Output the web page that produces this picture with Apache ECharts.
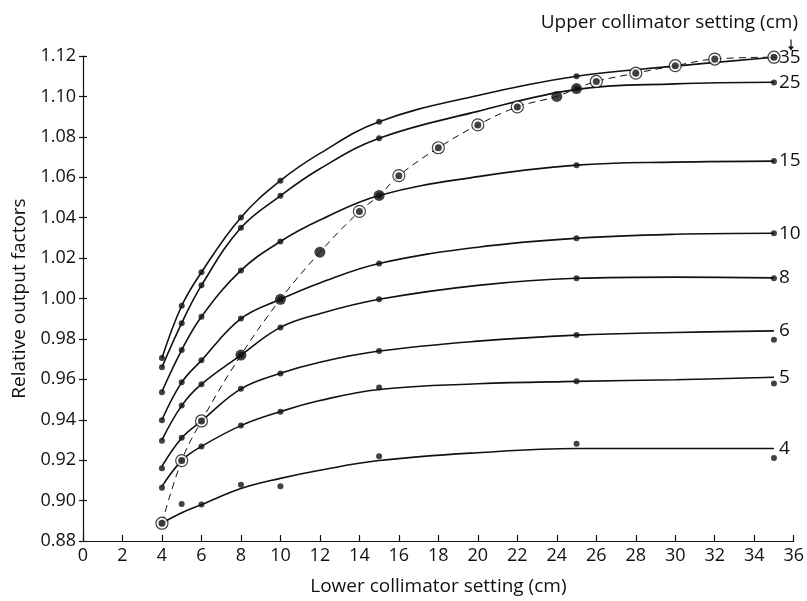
<!DOCTYPE html>
<html>
<head>
<meta charset="utf-8">
<script src="https://cdn.jsdelivr.net/npm/echarts@6/dist/echarts.min.js"></script>
<style>
  html, body { margin: 0; padding: 0; background: #fff; }
  #chart { width: 807px; height: 601px; }
</style>
</head>
<body>
<div id="chart"></div>
<script>
// Lower collimator settings at which output was measured (cm)
const lowerSettings = [4, 5, 6, 8, 10, 15, 25, 35];
// Upper collimator settings, one curve each (cm)
const upperSettings = [35, 25, 15, 10, 8, 6, 5, 4];

// Measured relative output factors, one array per upper setting
const measured35 = [0.9705, 0.9964, 1.0130, 1.0401, 1.0583, 1.0875, 1.1100, 1.1194];
const measured25 = [0.9660, 0.9878, 1.0065, 1.0350, 1.0508, 1.0793, 1.1039, 1.1069];
const measured15 = [0.9536, 0.9745, 0.9910, 1.0139, 1.0282, 1.0510, 1.0659, 1.0680];
const measured10 = [0.9397, 0.9585, 0.9694, 0.9901, 0.9996, 1.0173, 1.0298, 1.0323];
const measured8  = [0.9296, 0.9470, 0.9576, 0.9720, 0.9857, 0.9996, 1.0100, 1.0100];
const measured6  = [0.9160, 0.9311, 0.9394, 0.9553, 0.9629, 0.9740, 0.9819, 0.9796];
const measured5  = [0.9064, 0.9198, 0.9268, 0.9371, 0.9440, 0.9560, 0.9590, 0.9580];
const measured4  = [0.8888, 0.8983, 0.8981, 0.9078, 0.9071, 0.9220, 0.9281, 0.9211];

// Smoothed fit curves at these lower settings (cm)
const curveSettings = [4, 5, 6, 8, 10, 12, 15, 20, 25, 30, 35];
const fitted35 = [0.9705, 0.9964, 1.0130, 1.0401, 1.0583, 1.0718, 1.0875, 1.1005, 1.1100, 1.1150, 1.1194];
const fitted25 = [0.9660, 0.9878, 1.0065, 1.0350, 1.0508, 1.0642, 1.0793, 1.0926, 1.1035, 1.1062, 1.1070];
const fitted15 = [0.9540, 0.9745, 0.9910, 1.0139, 1.0282, 1.0388, 1.0510, 1.0603, 1.0660, 1.0675, 1.0680];
const fitted10 = [0.9400, 0.9585, 0.9694, 0.9900, 0.9996, 1.0077, 1.0173, 1.0254, 1.0298, 1.0318, 1.0323];
const fitted8  = [0.9300, 0.9470, 0.9576, 0.9720, 0.9857, 0.9925, 0.9996, 1.0065, 1.0100, 1.0106, 1.0102];
const fitted6  = [0.9170, 0.9310, 0.9394, 0.9553, 0.9630, 0.9685, 0.9740, 0.9789, 0.9819, 0.9832, 0.9840];
const fitted5  = [0.9070, 0.9198, 0.9268, 0.9371, 0.9440, 0.9495, 0.9550, 0.9578, 0.9590, 0.9598, 0.9610];
const fitted4  = [0.8888, 0.8940, 0.8980, 0.9060, 0.9110, 0.9150, 0.9198, 0.9237, 0.9258, 0.9258, 0.9258];

// Equal upper and lower settings (square fields), dashed curve
const equalSettings = [4, 5, 6, 8, 10, 12, 14, 15, 16, 18, 20, 22, 24, 25, 26, 28, 30, 32, 35];
const equalOutput   = [0.8888, 0.9198, 0.9394, 0.9720, 0.9996, 1.0229, 1.0431, 1.0510, 1.0608,
                       1.0746, 1.0859, 1.0948, 1.1000, 1.1039, 1.1074, 1.1115, 1.1152, 1.1185, 1.1194];
// Square fields drawn as solid discs; the rest are ringed
const solidEqual = [8, 10, 12, 15, 24, 25];

const yTicks = { min: 0.88, max: 1.12, step: 0.02 };
const xTicks = { min: 0, max: 36, step: 2 };

const measuredBySetting = {
  35: measured35, 25: measured25, 15: measured15, 10: measured10,
  8: measured8, 6: measured6, 5: measured5, 4: measured4
};
const fittedBySetting = {
  35: fitted35, 25: fitted25, 15: fitted15, 10: fitted10,
  8: fitted8, 6: fitted6, 5: fitted5, 4: fitted4
};

const FONT = 'Open Sans';
const INK = '#111';

const series = [];

// Fit curves with the setting written at the right end
upperSettings.forEach(s => {
  series.push({
    name: String(s),
    type: 'line',
    data: curveSettings.map((x, i) => [x, fittedBySetting[s][i]]),
    smooth: 0.4,
    symbol: 'none',
    lineStyle: { color: INK, width: 1.6 },
    endLabel: {
      show: true, formatter: '{a}', distance: 5,
      fontFamily: FONT, fontSize: 19, color: INK
    },
    z: 2,
    silent: true
  });
});

// Dashed curve for equal settings
series.push({
  type: 'line',
  data: equalSettings.map((x, i) => [x, equalOutput[i]]),
  smooth: 0.4,
  symbol: 'none',
  lineStyle: { color: INK, width: 1, type: [7, 5] },
  z: 3,
  silent: true
});

// Small measurement dots
const smallDots = [];
upperSettings.forEach(s => {
  lowerSettings.forEach((x, i) => smallDots.push([x, measuredBySetting[s][i]]));
});
series.push({
  type: 'scatter',
  data: smallDots,
  symbol: 'circle',
  symbolSize: 6,
  itemStyle: { color: INK },
  z: 4,
  silent: true
});

// Ringed square-field points: open ring behind a dark centre
const ringed = equalSettings
  .map((x, i) => [x, equalOutput[i]])
  .filter(p => solidEqual.indexOf(p[0]) < 0);
const solid = equalSettings
  .map((x, i) => [x, equalOutput[i]])
  .filter(p => solidEqual.indexOf(p[0]) >= 0);

series.push({
  type: 'scatter', data: ringed, symbol: 'circle', symbolSize: 12,
  itemStyle: { color: '#fff', borderColor: INK, borderWidth: 1.2 },
  z: 5, silent: true
});
series.push({
  type: 'scatter', data: ringed, symbol: 'circle', symbolSize: 7,
  itemStyle: { color: INK },
  z: 6, silent: true
});
series.push({
  type: 'scatter', data: solid, symbol: 'circle', symbolSize: 11,
  itemStyle: { color: INK },
  z: 6, silent: true
});

const chart = echarts.init(document.getElementById('chart'), null, { renderer: 'canvas' });
chart.setOption({
  animation: false,
  backgroundColor: '#fff',
  textStyle: { fontFamily: FONT },
  grid: { left: 83, right: 10, top: 56, bottom: 56, containLabel: false },
  xAxis: {
    type: 'value',
    min: xTicks.min, max: xTicks.max, interval: xTicks.step,
    name: 'Lower collimator setting (cm)',
    nameLocation: 'middle', nameGap: 36,
    nameTextStyle: { fontFamily: FONT, fontSize: 19, color: INK },
    axisLine: { show: true, lineStyle: { color: INK, width: 1.2 } },
    axisTick: { show: true, inside: true, length: 6, lineStyle: { color: INK, width: 1.2 } },
    axisLabel: { fontFamily: FONT, fontSize: 18, color: INK, margin: 6 },
    splitLine: { show: false }
  },
  yAxis: [{
    type: 'value',
    min: yTicks.min, max: yTicks.max, interval: yTicks.step,
    name: 'Relative output factors',
    nameLocation: 'middle', nameGap: 54,
    nameTextStyle: { fontFamily: FONT, fontSize: 19, color: INK },
    axisLine: { show: true, lineStyle: { color: INK, width: 1.2 } },
    axisTick: { show: true, inside: false, length: 4, lineStyle: { color: INK, width: 1.2 } },
    axisLabel: {
      fontFamily: FONT, fontSize: 18, color: INK, margin: 7,
      formatter: v => v.toFixed(2)
    },
    splitLine: { show: false }
  }, {
    // inner half of the crossing ticks
    type: 'value', position: 'left',
    min: yTicks.min, max: yTicks.max, interval: yTicks.step,
    axisLine: { show: false },
    axisTick: { show: true, inside: true, length: 4, lineStyle: { color: INK, width: 1.2 } },
    axisLabel: { show: false },
    splitLine: { show: false }
  }],
  graphic: [{
    type: 'text',
    right: 9, top: 13,
    style: {
      text: 'Upper collimator setting (cm)',
      font: '19px "Open Sans"', fill: INK
    }
  }, {
    type: 'group',
    left: 788, top: 37,
    children: [{
      type: 'line',
      shape: { x1: 3.5, y1: 0, x2: 3.5, y2: 9 },
      style: { stroke: INK, lineWidth: 1.2 }
    }, {
      type: 'polygon',
      shape: { points: [[0.5, 7], [6.5, 7], [3.5, 11]] },
      style: { fill: INK }
    }]
  }],
  series: series
});
</script>
</body>
</html>
